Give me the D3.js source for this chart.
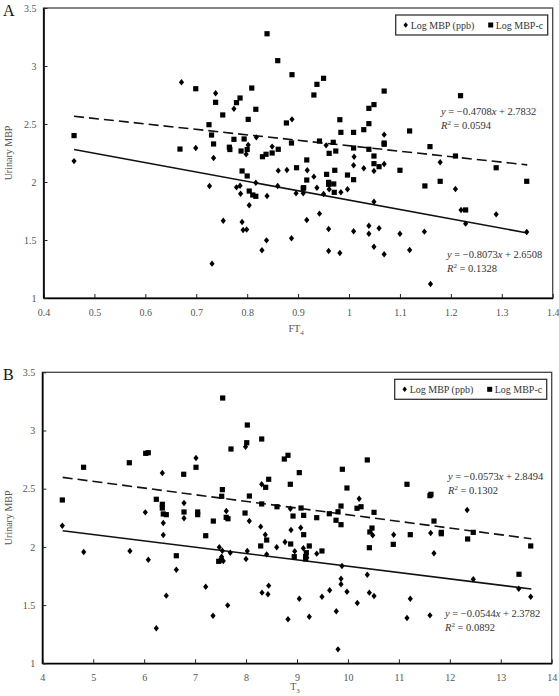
<!DOCTYPE html>
<html>
<head>
<meta charset="utf-8">
<script src="https://cdn.jsdelivr.net/npm/d3@7"></script>
<style>
  body { margin: 0; background: #fff; }
  svg { display: block; font-family: "Liberation Serif", "Times New Roman", serif; }
</style>
</head>
<body>
<div class="canvas"></div>
<script>
// panel A: FT4 vs urinary MBP
const ftTicks = [0.4, 0.5, 0.6, 0.7, 0.8, 0.9, 1, 1.1, 1.2, 1.3, 1.4];
const ftMbp = [
  [0.46,2.18],[0.671,2.86],[0.738,2.765],[0.774,2.632],[0.888,2.54],[0.699,2.293],[0.734,2.207],
  [0.802,2.319],[0.798,2.239],[0.818,2.385],[0.849,2.305],[0.861,2.098],[0.878,2.103],[0.726,1.966],
  [0.779,1.954],[0.786,1.968],[0.787,1.899],[0.817,1.994],[0.86,1.966],[0.839,1.879],[0.804,1.8],
  [0.896,1.902],[0.753,1.666],[0.79,1.655],[0.792,1.586],[0.799,1.59],[0.838,1.497],[0.829,1.411],
  [0.887,1.515],[0.731,1.296],[1.069,2.408],[0.955,2.316],[1.01,2.218],[1.009,2.144],[1.029,2.118],
  [1.069,2.155],[1.049,2.095],[0.918,2.101],[0.931,2.046],[0.937,1.951],[0.961,1.937],[0.95,1.897],
  [0.984,1.911],[0.997,1.937],[0.91,1.902],[1.049,1.83],[0.917,1.672],[0.942,1.727],[0.96,1.595],
  [1.009,1.575],[1.039,1.623],[1.039,1.554],[1.059,1.601],[1.1,1.554],[1.148,1.572],[0.96,1.405],
  [0.982,1.388],[1.049,1.442],[1.069,1.377],[1.119,1.414],[1.179,2.17],[1.209,1.94],[1.22,1.759],
  [1.229,1.641],[1.289,1.721],[1.349,1.569],[1.16,1.121]
];
const ftMbpc = [
  [0.46,2.4],[0.839,3.278],[0.86,3.046],[0.888,2.925],[0.699,2.804],[0.809,2.81],[0.738,2.687],
  [0.786,2.724],[0.779,2.684],[0.817,2.627],[0.752,2.578],[0.802,2.54],[0.877,2.509],[0.725,2.494],
  [0.73,2.405],[0.774,2.368],[0.794,2.371],[0.734,2.328],[0.887,2.336],[0.765,2.3],[0.766,2.28],
  [0.788,2.267],[0.8,2.28],[0.83,2.218],[0.837,2.239],[0.849,2.25],[0.861,2.282],[0.668,2.284],
  [0.897,2.123],[0.79,2.095],[0.8,2.052],[0.91,1.946],[0.804,1.922],[0.811,1.888],[0.817,1.877],
  [0.937,2.842],[0.95,2.894],[0.931,2.75],[1.069,2.784],[1.039,2.635],[1.049,2.667],[0.982,2.537],
  [0.984,2.428],[1.009,2.428],[1.029,2.451],[1.039,2.503],[1.119,2.44],[1.069,2.336],[1.069,2.325],
  [0.942,2.353],[0.969,2.342],[0.961,2.247],[0.974,2.267],[1.009,2.293],[1.039,2.282],[1.049,2.224],
  [1.049,2.158],[1.059,2.132],[0.917,2.19],[0.917,2.017],[0.972,2.101],[0.956,2.066],[0.997,2.06],
  [1.009,2.02],[0.96,1.997],[0.96,1.98],[0.97,1.983],[0.971,1.911],[0.911,1.951],[1.1,2.101],
  [1.149,1.966],[1.219,2.744],[1.159,2.305],[1.209,2.224],[1.289,2.123],[1.349,2.006],[1.179,2.006],
  [1.229,1.759]
];

// panel B: T3 vs urinary MBP
const t3Ticks = [4, 5, 6, 7, 8, 9, 10, 11, 12, 13, 14];
const t3Mbp = [
  [4.393,2.182],[4.813,1.956],[5.72,1.965],[6.356,2.635],[7.017,2.764],[7.99,2.861],[8.307,2.538],
  [6.022,2.297],[6.782,2.377],[6.782,2.246],[6.375,2.205],[6.375,2.102],[7.612,2.308],[8.064,2.222],
  [8.287,2.174],[8.378,2.105],[8.405,1.936],[6.081,1.89],[6.631,1.804],[7.475,1.997],[7.534,1.967],
  [7.69,1.95],[7.52,1.916],[7.553,1.879],[8.024,1.965],[7.999,1.896],[7.208,1.658],[6.434,1.581],
  [7.639,1.498],[7.351,1.409],[6.238,1.301],[8.313,1.607],[8.43,1.593],[8.444,1.667],[8.601,1.997],
  [10.22,2.414],[8.869,2.328],[9.073,2.165],[8.882,2.145],[8.765,2.042],[8.955,1.962],[9.125,1.988],
  [9.19,1.907],[9.387,1.942],[10.486,2.1],[10.898,2.105],[9.883,1.836],[10.38,1.761],[9.864,1.727],
  [9.864,1.679],[9.641,1.627],[9.981,1.615],[10.42,1.607],[10.512,1.578],[9.49,1.572],[9.045,1.555],
  [10.184,1.518],[11.224,1.555],[9.771,1.447],[9.241,1.4],[8.823,1.378],[11.159,1.389],[9.805,1.12],
  [12.34,2.317],[11.624,2.119],[11.689,1.945],[12.461,1.722],[13.353,1.641],[13.588,1.572],[11.61,1.412]
];
const t3Mbpc = [
  [4.393,2.403],[4.81,2.684],[5.708,2.723],[6.03,2.804],[6.08,2.809],[6.776,2.624],[7.017,2.684],
  [7.541,3.279],[7.704,2.841],[8.025,3.047],[8.013,2.895],[8.307,2.927],[8.444,2.581],[8.385,2.512],
  [8.065,2.437],[7.522,2.435],[7.535,2.492],[6.238,2.409],[6.356,2.366],[6.356,2.334],[6.375,2.283],
  [6.434,2.277],[8.307,2.369],[8.607,2.345],[6.782,2.3],[7.05,2.3],[7.05,2.277],[7.208,2.096],
  [7.357,2.222],[7.61,2.254],[7.645,2.242],[7.98,2.291],[8.405,2.059],[8.287,2.008],[6.631,1.924],
  [7.463,1.876],[7.514,1.887],[8.751,2.755],[8.823,2.787],[9.045,2.638],[10.38,2.747],[9.89,2.667],
  [8.869,2.538],[9.981,2.506],[11.159,2.538],[9.079,2.334],[8.922,2.265],[9.131,2.271],[9.387,2.251],
  [9.634,2.285],[9.805,2.302],[9.766,2.229],[9.864,2.191],[9.864,2.351],[10.178,2.332],[10.257,2.345],
  [10.512,2.297],[10.472,2.162],[10.43,2.128],[10.42,1.993],[10.89,2.022],[11.224,2.105],[9.131,2.105],
  [8.876,2.025],[9.241,2.008],[9.49,1.965],[8.946,1.916],[9.17,1.916],[9.17,1.896],[9.183,1.95],
  [11.689,2.222],[11.833,2.125],[11.833,2.113],[12.35,2.068],[12.46,2.125],[13.588,2.008],[13.358,1.765],
  [11.61,2.44],[11.63,2.452]
];

const yTicks = [1, 1.5, 2, 2.5, 3, 3.5];
const legendLabels = ['Log MBP (ppb)', 'Log MBP-c'];

// regression: [slope, intercept, r2], line drawn between the x limits
const ftFitMbp = [-0.8073, 2.6508, 0.1328];
const ftFitMbpc = [-0.4708, 2.7832, 0.0594];
const ftFitRange = [0.46, 1.35];
const t3FitMbp = [-0.0544, 2.3782, 0.0892];
const t3FitMbpc = [-0.0573, 2.8494, 0.1302];
const t3FitRange = [4.4, 13.6];

const width = 559, height = 696;

const svg = d3.select('.canvas')
  .append('svg')
  .attr('width', width)
  .attr('height', height);

const diamond = 'M0,-3.2L2.6,0L0,3.2L-2.6,0Z';

const drawPanel = (p) => {
  const x = d3.scaleLinear().domain([p.xTicks[0], p.xTicks[p.xTicks.length - 1]]).range([p.left, p.right]);
  const y = d3.scaleLinear().domain([1, 3.5]).range([p.bottom, p.top]);
  const g = svg.append('g');

  // frame
  g.append('rect')
    .attr('x', p.left).attr('y', p.top)
    .attr('width', p.right - p.left).attr('height', p.bottom - p.top)
    .attr('fill', 'none').attr('stroke', '#444').attr('stroke-width', 1.3);

  const xAxis = g.append('g')
    .attr('transform', `translate(0,${p.bottom})`)
    .call(d3.axisBottom(x).tickValues(p.xTicks).tickSize(-4).tickSizeOuter(0).tickPadding(11)
      .tickFormat(d => String(+d.toFixed(2))));
  const yAxis = g.append('g')
    .attr('transform', `translate(${p.left},0)`)
    .call(d3.axisLeft(y).tickValues(yTicks).tickSize(-4).tickSizeOuter(0).tickPadding(7)
      .tickFormat(d => String(d)));
  [xAxis, yAxis].forEach(a => {
    a.select('.domain').attr('stroke', '#000').attr('stroke-width', 1.6);
    a.selectAll('.tick line').attr('stroke', '#222');
    a.selectAll('.tick text').attr('fill', '#555').attr('font-size', 10)
      .attr('font-family', '"Liberation Serif", serif');
  });

  // axis titles (the lower one is kept inside the page)
  const xt = g.append('text')
    .attr('x', (p.left + p.right) / 2 - 2).attr('y', Math.min(p.bottom + 34, height - 6))
    .attr('text-anchor', 'middle').attr('fill', '#555').attr('font-size', 10);
  xt.append('tspan').text(p.xName);
  xt.append('tspan').attr('dy', 3).attr('font-size', 7).text(p.xSub);

  g.append('text')
    .attr('transform', `translate(12,${(p.top + p.bottom) / 2}) rotate(-90)`)
    .attr('text-anchor', 'middle').attr('fill', '#555').attr('font-size', 10)
    .text('Urinary MBP');

  g.append('text')
    .attr('x', 3).attr('y', p.top + 8)
    .attr('font-size', 16).attr('fill', '#111')
    .text(p.id);

  // regression lines
  const line = d3.line().x(d => x(d[0])).y(d => y(d[1]));
  const fitPts = f => p.fitRange.map(v => [v, f[0] * v + f[1]]);
  g.append('path').datum(fitPts(p.fitMbpc)).attr('d', line)
    .attr('fill', 'none').attr('stroke', '#111').attr('stroke-width', 1.6)
    .attr('stroke-dasharray', '10,5');
  g.append('path').datum(fitPts(p.fitMbp)).attr('d', line)
    .attr('fill', 'none').attr('stroke', '#111').attr('stroke-width', 1.6);

  // points
  g.append('g').selectAll('path').data(p.mbp).enter().append('path')
    .attr('d', diamond)
    .attr('transform', d => `translate(${x(d[0])},${y(d[1])})`)
    .attr('fill', '#000');
  g.append('g').selectAll('rect').data(p.mbpc).enter().append('rect')
    .attr('x', d => x(d[0]) - 2.6).attr('y', d => y(d[1]) - 2.6)
    .attr('width', 5.2).attr('height', 5.2)
    .attr('fill', '#000');

  // equations
  const eq = (f, ex, ey) => {
    const t = g.append('text').attr('x', ex).attr('y', ey).attr('fill', '#333').attr('font-size', 10.5);
    t.append('tspan').attr('font-style', 'italic').text('y');
    t.append('tspan').text(` = \u2212${Math.abs(f[0]).toFixed(4)}`);
    t.append('tspan').attr('font-style', 'italic').text('x');
    t.append('tspan').text(` + ${f[1].toFixed(4)}`);
    const r = g.append('text').attr('x', ex).attr('y', ey + 13.5).attr('fill', '#333').attr('font-size', 10.5);
    r.append('tspan').attr('font-style', 'italic').text('R');
    r.append('tspan').attr('dy', -4).attr('font-size', 7).text('2');
    r.append('tspan').attr('dy', 4).text(` = ${f[2].toFixed(4)}`);
  };
  eq(p.fitMbpc, p.eqUp[0], p.eqUp[1]);
  eq(p.fitMbp, p.eqLow[0], p.eqLow[1]);

  // legend
  const lg = g.append('g').attr('transform', `translate(${p.right - 157},${p.top + 7})`);
  lg.append('rect').attr('width', 152).attr('height', 20)
    .attr('fill', '#fff').attr('stroke', '#333').attr('stroke-width', 1.3);
  lg.append('path').attr('d', diamond).attr('transform', 'translate(10,10) scale(0.85)').attr('fill', '#000');
  lg.append('rect').attr('x', 92.5).attr('y', 7.5).attr('width', 5).attr('height', 5).attr('fill', '#000');
  lg.selectAll('text').data(legendLabels).enter().append('text')
    .attr('x', (d, i) => i ? 100 : 15).attr('y', 13.8)
    .attr('font-size', 10).attr('fill', '#333')
    .text(d => d);
};

drawPanel({
  id: 'A', top: 8, bottom: 298, left: 43.5, right: 552.7,
  xTicks: ftTicks, xName: 'FT', xSub: '4',
  mbp: ftMbp, mbpc: ftMbpc, fitMbp: ftFitMbp, fitMbpc: ftFitMbpc, fitRange: ftFitRange,
  eqUp: [441, 115], eqLow: [447, 258]
});
drawPanel({
  id: 'B', top: 372.3, bottom: 663.3, left: 42.3, right: 551.7,
  xTicks: t3Ticks, xName: 'T', xSub: '3',
  mbp: t3Mbp, mbpc: t3Mbpc, fitMbp: t3FitMbp, fitMbpc: t3FitMbpc, fitRange: t3FitRange,
  eqUp: [448, 480], eqLow: [445, 617]
});
</script>
</body>
</html>
